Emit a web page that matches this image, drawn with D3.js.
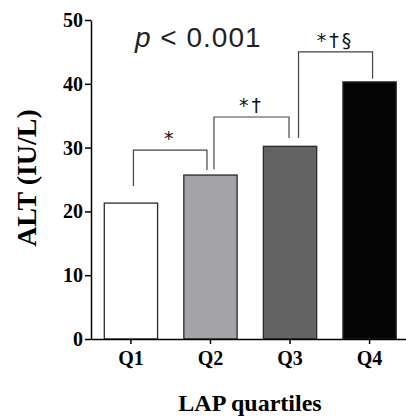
<!DOCTYPE html>
<html>
<head>
<meta charset="utf-8">
<script src="https://cdn.jsdelivr.net/npm/d3@7"></script>
<style>
  body { margin: 0; background: #fff; }
  svg { display: block; }
</style>
</head>
<body>
<svg width="406" height="419"></svg>
<script>
// data
var categories = ["Q1", "Q2", "Q3", "Q4"];
var altValues = [21.3, 25.7, 30.2, 40.3];
var yTicks = [0, 10, 20, 30, 40, 50];

// significance brackets (values in IU/L)
var bracketFrom = [0, 1, 2];
var bracketTo = [1, 2, 3];
var bracketTop = [29.6, 34.8, 45.0];
var bracketLeftEnd = [24.0, 26.6, 31.5];
var bracketRightEnd = [26.5, 31.5, 40.8];
var bracketLabels = ["*", "*\u2020", "*\u2020\u00a7"];

var barFills = ["#ffffff", "#a4a4a8", "#636363", "#050505"];
var legLeftShift = [2.5, 3.5, 8.5];
var legRightShift = [-3.5, -1, 3];

var svg = d3.select("svg");

var xScale = d3.scaleBand().domain(categories).range([91, 409.5]).paddingInner(0.33).paddingOuter(0.167);
var yScale = d3.scaleLinear().domain([0, 50]).range([339, 20]);

// bars
svg.selectAll("rect.bar").data(altValues).enter().append("rect")
    .attr("class", "bar")
    .attr("x", function (d, i) { return xScale(categories[i]) })
    .attr("y", function (d) { return yScale(d) })
    .attr("width", xScale.bandwidth())
    .attr("height", function (d) { return yScale(0) - yScale(d) })
    .style("fill", function (d, i) { return barFills[i] })
    .style("stroke", "#2a2a2a")
    .style("stroke-width", 1.3);

// axes
var yAxis = d3.axisLeft(yScale).tickValues(yTicks).tickSize(6).tickSizeOuter(0).tickPadding(2);
var yAxisG = svg.append("g").attr("id", "yAxisG").attr("transform", "translate(91,0)").call(yAxis);

var xAxis = d3.axisBottom(xScale).tickSize(5).tickSizeOuter(0).tickPadding(7);
var xAxisG = svg.append("g").attr("id", "xAxisG").attr("transform", "translate(0,339)").call(xAxis);

[yAxisG, xAxisG].forEach(function (g) {
    g.selectAll("path, line").style("stroke", "#000").style("stroke-width", 1.5);
    g.selectAll("text")
        .style("font-family", "'Liberation Serif', 'Times New Roman', serif")
        .style("font-weight", "bold")
        .style("fill", "#000");
});
yAxisG.selectAll("text").style("font-size", "20px");
xAxisG.selectAll("text").style("font-size", "20px");

// brackets
var center = function (i) { return xScale(categories[i]) + xScale.bandwidth() / 2 };

bracketLabels.forEach(function (lab, k) {
    var x1 = center(bracketFrom[k]) + legLeftShift[k];
    var x2 = center(bracketTo[k]) + legRightShift[k];
    var yt = yScale(bracketTop[k]);
    svg.append("path")
        .attr("d", "M" + x1 + "," + yScale(bracketLeftEnd[k]) + "V" + yt + "H" + x2 + "V" + yScale(bracketRightEnd[k]))
        .style("fill", "none")
        .style("stroke", "#444")
        .style("stroke-width", 1.2);
    svg.append("text")
        .attr("x", (x1 + x2) / 2)
        .attr("y", yt - 5)
        .attr("text-anchor", "middle")
        .style("font-family", "'DejaVu Sans', sans-serif")
        .style("font-size", "19px")
        .style("letter-spacing", "3px")
        .style("fill", "#111")
        .text(lab);
});

// p value
var pText = svg.append("text")
    .attr("x", 135)
    .attr("y", 47)
    .style("font-family", "'Liberation Sans', Arial, sans-serif")
    .style("font-size", "28px")
    .style("letter-spacing", "1px")
    .style("fill", "#222");
pText.append("tspan").style("font-style", "italic").text("p");
pText.append("tspan").text(" < 0.001");

// axis titles
svg.append("text")
    .attr("transform", "translate(36,178) rotate(-90)")
    .attr("text-anchor", "middle")
    .style("font-family", "'Liberation Serif', 'Times New Roman', serif")
    .style("font-weight", "bold")
    .style("font-size", "28px")
    .text("ALT (IU/L)");

svg.append("text")
    .attr("x", 250)
    .attr("y", 411)
    .attr("text-anchor", "middle")
    .style("font-family", "'Liberation Serif', 'Times New Roman', serif")
    .style("font-weight", "bold")
    .style("font-size", "24px")
    .text("LAP quartiles");
</script>
</body>
</html>
